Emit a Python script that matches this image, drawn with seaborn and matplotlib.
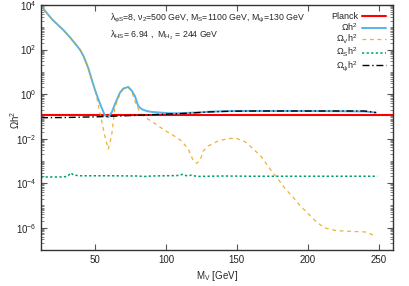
import numpy as np
import pandas as pd
import matplotlib
matplotlib.use("Agg")
import matplotlib.pyplot as plt
import matplotlib.ticker as mticker
import seaborn as sns

# ---- data ----
x_tot = [12, 14, 20, 27.7, 33, 39.4, 42, 45.3, 48, 50.5, 53.5, 57, 59.4, 62, 64, 67.6,
         70, 73.5, 76, 78.2, 80.5, 83, 86.4, 90, 95.8, 102.8, 110, 117, 124, 131, 140,
         150, 175, 200, 225, 240, 248]
om_tot = [1.26e4, 6.3e3, 2.2e3, 7.6e2, 3.2e2, 1.0e2, 50, 14.8, 4.0, 1.26, 0.38, 0.11,
          0.091, 0.16, 0.34, 1.15, 1.78, 2.09, 1.41, 0.81, 0.29, 0.21, 0.174, 0.158,
          0.148, 0.138, 0.138, 0.145, 0.151, 0.162, 0.170, 0.174, 0.174, 0.174, 0.170,
          0.166, 0.148]

x_v = [12, 14, 20, 27.7, 33, 39.4, 42, 45.3, 48, 50.5, 53.5, 57, 59.4, 61.7, 62.9, 64,
       67.6, 70, 73.5, 76, 78.2, 81.7, 85, 88.7, 94.6, 98, 104, 111, 115.7, 118.8, 121.6,
       124, 126.3, 129.8, 136.9, 144, 149, 156, 161.7, 167.6, 172, 174.4, 179, 183.8,
       189.7, 194.4, 200.2, 206, 212, 220, 229.6, 240, 243.7, 248]
om_v = [1.26e4, 6.3e3, 2.2e3, 7.6e2, 3.2e2, 1.0e2, 50, 14.8, 4.0, 1.26, 0.148, 0.0132,
        0.0034, 0.0132, 0.052, 0.25, 1.0, 1.66, 2.0, 1.26, 0.48, 0.148, 0.095, 0.066,
        0.038, 0.026, 0.0158, 0.0079, 0.0034, 0.0012, 7.8e-4, 1.02e-3, 2.8e-3, 4.7e-3,
        7.9e-3, 1.0e-2, 1.07e-2, 7.1e-3, 3.4e-3, 1.45e-3, 5.6e-4, 3.6e-4, 1.55e-4,
        5.9e-5, 2.3e-5, 1.0e-5, 4.3e-6, 1.8e-6, 9.8e-7, 7.4e-7, 6.9e-7, 6.5e-7, 5.4e-7,
        4.2e-7]

x_s = [12, 20, 28, 31, 33, 35, 40, 60, 80, 85, 90, 100, 108, 112, 115, 118, 122, 130,
       140, 160, 200, 249]
om_s = [1.9e-4, 1.9e-4, 1.9e-4, 2.1e-4, 2.9e-4, 2.3e-4, 2.15e-4, 2.15e-4, 2.1e-4,
        2.0e-4, 2.1e-4, 2.15e-4, 2.2e-4, 2.5e-4, 2.1e-4, 2.3e-4, 2.0e-4, 2.05e-4,
        2.1e-4, 2.05e-4, 2.05e-4, 2.05e-4]

x_psi = [12, 30, 50, 60, 80, 100, 115, 130, 145, 160, 240, 248]
om_psi = [0.087, 0.089, 0.095, 0.1, 0.112, 0.126, 0.138, 0.158, 0.170, 0.174, 0.174,
          0.148]

planck = 0.12
x_range = [12, 260]

labels = ["Planck", r"$\Omega h^2$", r"$\Omega_V h^2$", r"$\Omega_S h^2$",
          r"$\Omega_\psi h^2$"]

# ---- style ----
sns.set_style("ticks")
plt.rcParams["font.family"] = ["Liberation Sans", "DejaVu Sans"]
plt.rcParams["mathtext.fontset"] = "custom"
plt.rcParams["mathtext.rm"] = "Liberation Sans"
plt.rcParams["mathtext.it"] = "Liberation Sans"
plt.rcParams["mathtext.bf"] = "Liberation Sans:bold"
plt.rcParams["mathtext.sf"] = "Liberation Sans"
plt.rcParams["mathtext.default"] = "regular"

fig = plt.figure(figsize=(4.09, 2.86), dpi=100)
ax = fig.add_axes([41/409, 36/286, (393-41)/409, (250-5)/286])

df_pl = pd.DataFrame({"x": x_range, "y": [planck, planck]})
df_tot = pd.DataFrame({"x": x_tot, "y": om_tot})
df_v = pd.DataFrame({"x": x_v, "y": om_v})
df_s = pd.DataFrame({"x": x_s, "y": om_s})
df_psi = pd.DataFrame({"x": x_psi, "y": om_psi})

sns.lineplot(data=df_pl, x="x", y="y", ax=ax, color="#ff0000", lw=1.5, label=labels[0])
sns.lineplot(data=df_tot, x="x", y="y", ax=ax, color="#56b4e9", lw=1.4, label=labels[1])
sns.lineplot(data=df_v, x="x", y="y", ax=ax, color="#e69f00", lw=0.9,
             linestyle=(0, (3, 3)), label=labels[2], alpha=0.8)
sns.lineplot(data=df_s, x="x", y="y", ax=ax, color="#009e73", lw=1.1,
             linestyle=(0, (1.5, 1.5)), label=labels[3])
sns.lineplot(data=df_psi, x="x", y="y", ax=ax, color="black", lw=1.0,
             linestyle=(0, (5, 2, 1, 2)), label=labels[4])

ax.set_yscale("log")
ax.set_xlim(12, 260)
ax.set_ylim(1e-7, 1e4)
ax.set_yticks([1e-6, 1e-4, 1e-2, 1e0, 1e2, 1e4])
ax.yaxis.set_major_formatter(mticker.FuncFormatter(
    lambda v, p: r"$10^{%d}$" % int(round(np.log10(v)))))
ax.yaxis.set_minor_locator(mticker.LogLocator(base=10, subs=np.arange(1, 10), numticks=30))
ax.yaxis.set_minor_formatter(mticker.NullFormatter())
ax.set_xticks([50, 100, 150, 200, 250])

for s in ax.spines.values():
    s.set_color("#333333")
    s.set_linewidth(1.0)
ax.tick_params(which="both", direction="in", top=True, right=True, colors="#555555",
               labelcolor="#222222", labelsize=7)
ax.tick_params(which="major", length=4, width=0.8)
ax.tick_params(which="minor", length=2, width=0.5)

ax.set_xlabel(r"$M_V$ [GeV]", fontsize=7, labelpad=3)
ax.set_ylabel(r"$\Omega h^2$", fontsize=7)
ax.yaxis.set_label_coords(-0.055, 0.53)

ax.text(0.196, 0.945, r"$λ_{φS}$=8, $ν_2$=500 GeV, $M_S$=1100 GeV, $M_ψ$=130 GeV",
        transform=ax.transAxes, fontsize=6.3, va="center", ha="left")
ax.text(0.196, 0.875, r"$λ_{HS}$= 6.94 ,  $M_{H_2}$ = 244 GeV",
        transform=ax.transAxes, fontsize=6.3, va="center", ha="left")

leg = ax.legend(loc="upper right", frameon=False, markerfirst=False, fontsize=6.5,
                handlelength=2.6, labelspacing=0.0, borderaxespad=0.4,
                handletextpad=0.5)
for t in leg.get_texts():
    t.set_ha("right")

fig.savefig("out.png", dpi=100)
